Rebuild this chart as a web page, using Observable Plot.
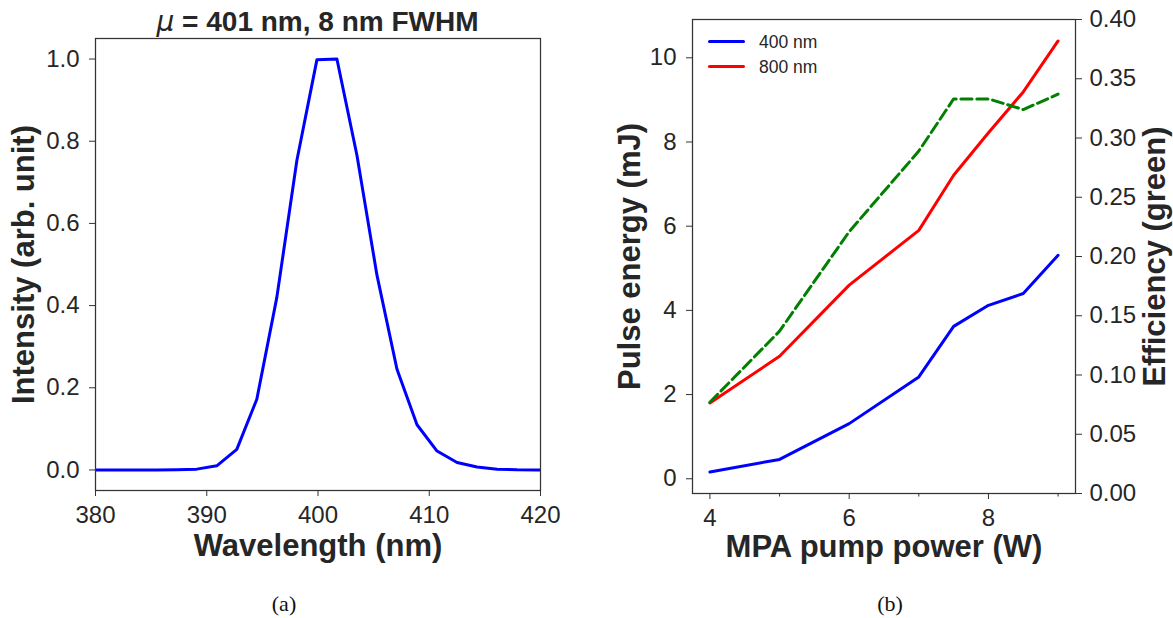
<!DOCTYPE html>
<html>
<head>
<meta charset="utf-8">
<script src="https://cdn.jsdelivr.net/npm/d3@7"></script>
<script src="https://cdn.jsdelivr.net/npm/@observablehq/plot@0.6"></script>
<style>
  html, body { margin: 0; padding: 0; background: white; }
  #wrap { position: relative; width: 1173px; height: 618px; background: white; overflow: hidden; font-family: "Liberation Sans", Arial, sans-serif; color: #262626; }
  .abs { position: absolute; }
  .cap { position: absolute; font-family: "Liberation Serif", "DejaVu Serif", serif; font-size: 22px; color: #111; transform: translateX(-50%); }
  .leg { position: absolute; font-size: 17.5px; line-height: 20px; color: #262626; }
  .sw { position: absolute; height: 3px; width: 37px; border-radius: 1.5px; }
</style>
</head>
<body>
<div id="wrap"></div>
<script>
// ---- Panel (a): spectrum ----
const wavelength = [378.3, 380.1, 381.9, 383.7, 385.5, 387.3, 389.1, 390.9, 392.7, 394.5, 396.3, 398.1, 399.9, 401.7, 403.5, 405.3, 407.1, 408.9, 410.7, 412.5, 414.3, 416.1, 417.9, 419.7, 421.5];
const intensity  = [0, 0, 0, 0, 0, 0.0005, 0.002, 0.01, 0.05, 0.172, 0.42, 0.753, 0.998, 1.0, 0.766, 0.474, 0.245, 0.11, 0.046, 0.018, 0.007, 0.002, 0.0005, 0.0001, 0];
const xTicksA = [380, 390, 400, 410, 420];
const yTicksA = [0, 0.2, 0.4, 0.6, 0.8, 1.0];

// ---- Panel (b): pulse energy & efficiency ----
const pumpPower  = [4, 5, 6, 7, 7.5, 8, 8.5, 9];
const energy400  = [0.16, 0.46, 1.31, 2.42, 3.62, 4.12, 4.40, 5.31];
const energy800  = [1.80, 2.91, 4.60, 5.90, 7.21, 8.22, 9.19, 10.40];
const efficiency = [0.077, 0.137, 0.221, 0.289, 0.333, 0.333, 0.324, 0.337];
const xTicksB = [4, 6, 8];
const xMinorB = [5, 7, 9];
const yTicksB = [0, 2, 4, 6, 8, 10];
const effTicks = [0, 0.05, 0.10, 0.15, 0.20, 0.25, 0.30, 0.35, 0.40];
const seriesNames = ["400 nm", "800 nm"];
const seriesColors = ["#0000ff", "#ff0000"];

const wrap = document.getElementById("wrap");
const FONT = "'Liberation Sans', Arial, sans-serif";
const INK = "#262626";
const FRAME = "#333333";
const LABEL = 31;

function place(node, left, top, width) {
  const d = document.createElement("div");
  d.className = "abs";
  d.style.left = left + "px";
  d.style.top = top + "px";
  d.style.width = width + "px";
  d.appendChild(node);
  wrap.appendChild(d);
  return d;
}

// Panel (a)
const specData = wavelength.map((w, i) => ({w, v: intensity[i]}));
const plotA = Plot.plot({
  width: 560, height: 560,
  marginLeft: 95, marginRight: 20, marginTop: 38, marginBottom: 70,
  style: {fontFamily: FONT, fontSize: "24px", color: INK, background: "transparent", overflow: "visible"},
  x: {domain: [380, 420]},
  y: {domain: [-0.05, 1.05]},
  marks: [
    Plot.line(specData, {x: "w", y: "v", stroke: "#0000ff", strokeWidth: 3, clip: true}),
    Plot.frame({stroke: FRAME, strokeWidth: 1.25}),
    Plot.axisX({ticks: xTicksA, tickFormat: "d", tickSize: 6, tickPadding: 9, label: null, stroke: FRAME}),
    Plot.axisY({ticks: yTicksA, tickFormat: ".1f", tickSize: 6, tickPadding: 10, label: null, stroke: FRAME}),
    Plot.text(["Wavelength (nm)"], {frameAnchor: "bottom", lineAnchor: "middle", textAnchor: "middle", dy: 56, fontSize: LABEL, fontWeight: "bold", fill: INK}),
    Plot.text(["Intensity (arb. unit)"], {frameAnchor: "left", lineAnchor: "middle", textAnchor: "middle", dx: -71, rotate: -90, fontSize: LABEL, fontWeight: "bold", fill: INK})
  ]
});
place(plotA, 0, 0, 560);

// Panel (b): energy (left axis)
const eData = [];
pumpPower.forEach((p, i) => { eData.push({p, e: energy400[i], s: seriesNames[0]}); });
pumpPower.forEach((p, i) => { eData.push({p, e: energy800[i], s: seriesNames[1]}); });

const commonB = {
  width: 573, height: 560,
  marginLeft: 92, marginRight: 98, marginTop: 19, marginBottom: 67
};

const plotB1 = Plot.plot({
  ...commonB,
  style: {fontFamily: FONT, fontSize: "24px", color: INK, background: "transparent", overflow: "visible"},
  x: {domain: [3.75, 9.25]},
  y: {domain: [-0.35, 10.91]},
  color: {domain: seriesNames, range: seriesColors},
  marks: [
    Plot.line(eData, {x: "p", y: "e", z: "s", stroke: "s", strokeWidth: 3}),
    Plot.frame({stroke: FRAME, strokeWidth: 1.25}),
    Plot.axisX({ticks: xTicksB, tickFormat: "d", tickSize: 6, tickPadding: 9, label: null, stroke: FRAME}),
    Plot.axisX({ticks: xMinorB, tickFormat: () => "", tickSize: 3.5, label: null, stroke: FRAME}),
    Plot.axisY({ticks: yTicksB, tickFormat: "d", tickSize: 6, tickPadding: 10, label: null, stroke: FRAME}),
    Plot.text(["MPA pump power (W)"], {frameAnchor: "bottom", lineAnchor: "middle", textAnchor: "middle", dy: 54, fontSize: LABEL, fontWeight: "bold", fill: INK}),
    Plot.text(["Pulse energy (mJ)"], {frameAnchor: "left", lineAnchor: "middle", textAnchor: "middle", dx: -62, rotate: -90, fontSize: LABEL, fontWeight: "bold", fill: INK})
  ]
});
place(plotB1, 600, 0, 573);

// Panel (b): efficiency (right axis), same frame
const effData = pumpPower.map((p, i) => ({p, f: efficiency[i]}));
const plotB2 = Plot.plot({
  ...commonB,
  style: {fontFamily: FONT, fontSize: "24px", color: INK, background: "transparent", overflow: "visible"},
  x: {domain: [3.75, 9.25], axis: null},
  y: {domain: [0, 0.4], axis: null},
  marks: [
    Plot.line(effData, {x: "p", y: "f", stroke: "#008000", strokeWidth: 3, strokeDasharray: "11.1,4.8"}),
    Plot.axisY({anchor: "right", ticks: effTicks, tickFormat: ".2f", tickSize: 6, tickPadding: 8, label: null, stroke: FRAME}),
    Plot.text(["Efficiency (green)"], {frameAnchor: "right", lineAnchor: "middle", textAnchor: "middle", dx: 80, rotate: -90, fontSize: LABEL, fontWeight: "bold", fill: INK})
  ]
});
const ov = place(plotB2, 600, 0, 573);
ov.style.pointerEvents = "none";

// Legend
seriesNames.forEach((name, i) => {
  const sw = document.createElement("div");
  sw.className = "sw";
  sw.style.left = "708px";
  sw.style.top = (40.2 + 25 * i) + "px";
  sw.style.background = seriesColors[i];
  wrap.appendChild(sw);
  const t = document.createElement("div");
  t.className = "leg";
  t.style.left = "759px";
  t.style.top = (31.7 + 25 * i) + "px";
  t.textContent = name;
  wrap.appendChild(t);
});

// Title of panel (a)
const title = document.createElement("div");
title.className = "abs";
title.style.left = "317.5px";
title.style.top = "8px";
title.style.transform = "translateX(-50%)";
title.style.whiteSpace = "nowrap";
title.style.fontSize = "28px";
title.style.lineHeight = "28px";
title.style.fontWeight = "bold";
title.innerHTML = '<i style="font-weight:normal;font-family:\'DejaVu Sans\',sans-serif">&mu;</i> = 401 nm, 8 nm FWHM';
wrap.appendChild(title);

// Captions
[["(a)", 284], ["(b)", 890]].forEach(([s, x]) => {
  const c = document.createElement("div");
  c.className = "cap";
  c.style.left = x + "px";
  c.style.top = "591px";
  c.textContent = s;
  wrap.appendChild(c);
});
</script>
</body>
</html>
